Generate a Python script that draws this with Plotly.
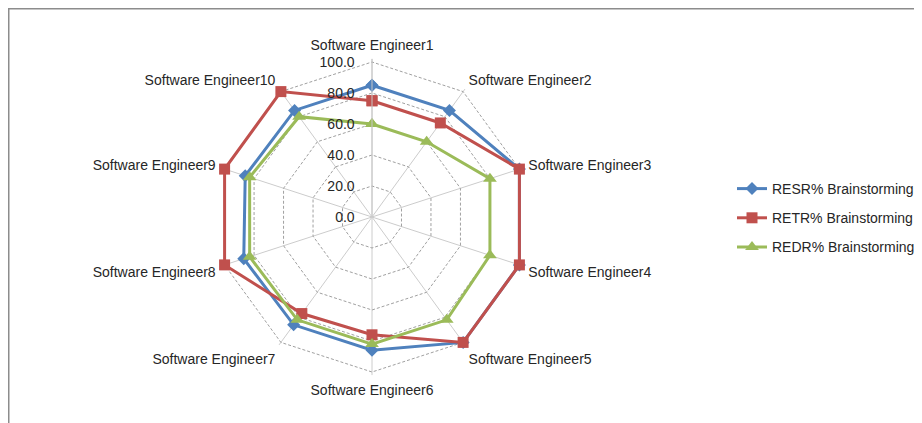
import plotly.graph_objects as go

categories = ["Software Engineer1", "Software Engineer2", "Software Engineer3",
              "Software Engineer4", "Software Engineer5", "Software Engineer6",
              "Software Engineer7", "Software Engineer8", "Software Engineer9",
              "Software Engineer10"]
resr = [85, 85, 100, 100, 100, 86, 86, 87, 86, 85]
retr = [75, 75, 100, 100, 100, 76, 77, 100, 100, 100]
redr = [60, 60, 80, 80, 82, 82, 82, 83, 83, 80]
series_names = ["RESR% Brainstorming", "RETR% Brainstorming", "REDR% Brainstorming"]
radial_ticks = [0, 20, 40, 60, 80, 100]

colors = ["#4F81BD", "#C0504D", "#9BBB59"]
symbols = ["diamond", "square", "triangle-up"]
sizes = [10, 11, 12]

W, H = 922, 423
OFF = 8  # page body margin offset
RMAX = 102  # small headroom so lines at 100 are not clipped
cx, cy = 372 - OFF, 217 - OFF
R = 155 * RMAX / 100

fig = go.Figure()
for i, (name, vals) in enumerate(zip(series_names, [resr, retr, redr])):
    fig.add_trace(go.Scatterpolar(
        r=vals + vals[:1], theta=categories + categories[:1],
        mode="lines+markers", name=name, legendgroup=name,
        line=dict(color=colors[i], width=3),
        marker=dict(symbol=symbols[i], size=sizes[i], color=colors[i]),
        cliponaxis=False,
    ))

font = dict(family="Liberation Sans, Arial, sans-serif", size=14, color="#262626")

fig.update_layout(
    width=W, height=H,
    margin=dict(l=0, r=0, t=0, b=0, autoexpand=False),
    paper_bgcolor="white",
    font=font,
    showlegend=True,
    legend=dict(x=(732 - OFF) / W, y=1 - (218 - OFF) / H, xanchor="left", yanchor="middle",
                traceorder="grouped", tracegroupgap=8, font=font,
                itemwidth=30, bgcolor="rgba(0,0,0,0)"),
    polar=dict(
        domain=dict(x=[(cx - R) / W, (cx + R) / W], y=[1 - (cy + R) / H, 1 - (cy - R) / H]),
        bgcolor="white",
        gridshape="linear",
        angularaxis=dict(rotation=90, direction="clockwise", showline=False,
                         gridcolor="#CCCCCC", gridwidth=1,
                         ticks="outside", ticklen=3, tickcolor="rgba(0,0,0,0)",
                         tickfont=font),
        radialaxis=dict(range=[0, RMAX], tickvals=radial_ticks, tickformat=".1f",
                        angle=90, tickangle=90, side="counterclockwise",
                        showline=True, linecolor="#C8C8C8", linewidth=1,
                        gridcolor="#A0A0A0", griddash="3px,2px", gridwidth=1,
                        ticks="outside", ticklen=12, tickcolor="rgba(0,0,0,0)",
                        tickfont=font),
    ),
    shapes=[dict(type="rect", xref="paper", yref="paper",
                 x0=0.5 / W, x1=1.05, y0=-0.05, y1=1 - 0.5 / H,
                 line=dict(color="#8C8C8C", width=2), fillcolor="rgba(0,0,0,0)")],
)

fig.write_html("out.html")
